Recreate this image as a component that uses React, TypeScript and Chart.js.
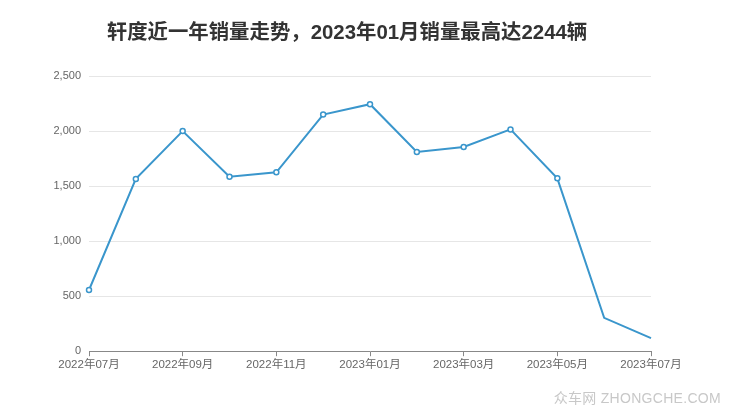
import React, { useEffect, useRef } from "react";
import { Chart, registerables } from "chart.js";

Chart.register(...registerables);

const months = [
  "2022年07月", "2022年08月", "2022年09月", "2022年10月", "2022年11月", "2022年12月",
  "2023年01月", "2023年02月", "2023年03月", "2023年04月", "2023年05月", "2023年06月", "2023年07月",
];
const sales = [556, 1565, 2000, 1585, 1625, 2150, 2244, 1810, 1855, 2015, 1570, 303, 119];
const pointSizes = [2.5, 2.5, 2.5, 2.5, 2.5, 2.5, 2.5, 2.5, 2.5, 2.5, 2.5, 0, 0];
const yTicks = [0, 500, 1000, 1500, 2000, 2500];
const titleText = "轩度近一年销量走势，2023年01月销量最高达2244辆";
const watermark = "众车网 ZHONGCHE.COM";

const LINE = "#3a96cc";
const FONT = "'Liberation Sans', 'Noto Sans CJK SC', sans-serif";

export default function App() {
  const ref = useRef<HTMLCanvasElement | null>(null);
  useEffect(() => {
    if (!ref.current) return;
    const chart = new Chart(ref.current, {
      type: "line",
      data: {
        labels: months,
        datasets: [
          {
            data: sales,
            borderColor: LINE,
            borderWidth: 2,
            pointRadius: pointSizes,
            pointBackgroundColor: "#ffffff",
            pointBorderColor: LINE,
            pointBorderWidth: 1.5,
            tension: 0,
            fill: false,
          },
        ],
      },
      options: {
        animation: false,
        responsive: true,
        maintainAspectRatio: false,
        layout: { padding: { left: 0, right: 89, top: 76, bottom: 43 } },
        plugins: {
          legend: { display: false },
          tooltip: { enabled: false },
          title: { display: false },
        },
        scales: {
          x: {
            offset: false,
            grid: {
              drawOnChartArea: false,
              drawTicks: true,
              tickLength: 5,
              color: (ctx: any) => (ctx.index % 2 === 0 ? "#888888" : "rgba(0,0,0,0)"),
            },
            border: { display: true, color: "#888888", width: 1 },
            ticks: {
              autoSkip: false,
              maxRotation: 0,
              padding: 2,
              color: "#666666",
              font: { family: FONT, size: 11.5 },
              callback: (_v: any, i: number) => (i % 2 === 0 ? months[i] : ""),
            },
          },
          y: {
            min: 0,
            max: 2500,
            afterFit: (s: any) => {
              s.width = 89;
            },
            afterBuildTicks: (s: any) => {
              s.ticks = yTicks.map((v) => ({ value: v }));
            },
            grid: { color: "#e6e6e6", drawTicks: false, lineWidth: 1 },
            border: { display: false },
            ticks: {
              padding: 8,
              color: "#666666",
              font: { family: FONT, size: 11 },
              callback: (v: any) => Number(v).toLocaleString("en-US"),
            },
          },
        },
      },
    });
    return () => chart.destroy();
  }, []);
  return (
    <div style={{ position: "fixed", left: 0, top: 0, width: 740, height: 417, background: "#fff" }}>
      <canvas ref={ref} />
      <div
        style={{
          position: "absolute",
          left: 0,
          width: 694,
          top: 20,
          textAlign: "center",
          fontFamily: FONT,
          fontSize: 20.4,
          fontWeight: "bold",
          color: "#333333",
          whiteSpace: "nowrap",
          lineHeight: "24px",
        }}
      >
        {titleText}
      </div>
      <div
        style={{
          position: "absolute",
          right: 19,
          top: 387,
          fontFamily: FONT,
          fontSize: 14,
          color: "#c8c8c8",
          whiteSpace: "nowrap",
          letterSpacing: 0.3,
        }}
      >
        {watermark}
      </div>
    </div>
  );
}
